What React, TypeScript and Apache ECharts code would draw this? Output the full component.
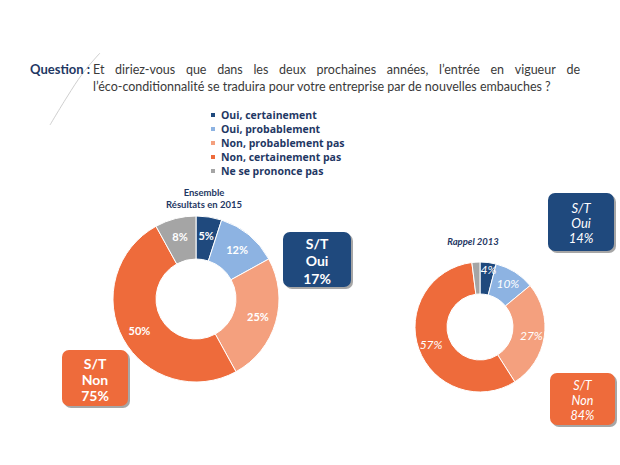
import React, { useEffect, useRef } from "react";
import * as echarts from "echarts";

const categories = [
  "Oui, certainement",
  "Oui, probablement",
  "Non, probablement pas",
  "Non, certainement pas",
  "Ne se prononce pas",
];
const values2015 = [5, 12, 25, 50, 8];
const values2013 = [4, 10, 27, 57, 2];
const colors = ["#1F497D", "#8DB3E2", "#F4A07E", "#EE6B3B", "#A5A5A5"];
const questionLine1 =
  "Et diriez-vous que dans les deux prochaines années, l\u2019entrée en vigueur de";
const questionLine2 =
  "l\u2019éco-conditionnalité se traduira pour votre entreprise par de nouvelles embauches ?";

const FONT = "Lato, 'Open Sans', sans-serif";
const WIDE = "'Open Sans', 'Noto Sans', sans-serif";

function measure(text: string, font: string): number {
  const c = document.createElement("canvas").getContext("2d");
  if (!c) return text.length * 5;
  c.font = font;
  return c.measureText(text).width;
}

function justifiedWords(line: string, x0: number, x1: number, y: number, size: number) {
  const words = line.split(" ");
  const font = `${size}px ${FONT}`;
  const widths = words.map((w) => measure(w, font));
  const total = widths.reduce((a, b) => a + b, 0);
  const gap = (x1 - x0 - total) / (words.length - 1);
  let x = x0;
  return words.map((w, i) => {
    const el = {
      type: "text",
      x,
      y,
      style: { text: w, fill: "#3A3A3A", font, textVerticalAlign: "middle" },
    };
    x += widths[i] + gap;
    return el;
  });
}

function box(x: number, y: number, w: number, h: number, fill: string, lines: string[], italic: boolean, size: number, lh: number) {
  return {
    type: "group",
    children: [
      {
        type: "rect",
        shape: { x: x + 2, y: y + 2, width: w, height: h, r: 7 },
        style: { fill: "rgba(0,0,0,0.35)" },
      },
      {
        type: "rect",
        shape: { x, y, width: w, height: h, r: 7 },
        style: { fill },
      },
      {
        type: "text",
        x: x + w / 2,
        y: y + h / 2 + 1,
        style: {
          text: lines.join("\n"),
          fill: "#FFFFFF",
          font: `${italic ? "italic " : ""}${italic ? "normal" : "bold"} ${size}px ${FONT}`,
          lineHeight: lh,
          align: "center",
          verticalAlign: "middle",
        },
      },
    ],
  };
}

export default function App() {
  const ref = useRef<HTMLDivElement>(null);
  useEffect(() => {
    if (!ref.current) return;
    const chart = echarts.init(ref.current, undefined, { renderer: "svg" });
    const oui15 = values2015[0] + values2015[1];
    const non15 = values2015[2] + values2015[3];
    const oui13 = values2013[0] + values2013[1];
    const non13 = values2013[2] + values2013[3];

    const mk = (vals: number[]) =>
      vals.map((v, i) => ({ name: categories[i], value: v, itemStyle: { color: colors[i] } }));

    const data13 = mk(values2013);
    (data13[4] as any).label = { offset: [-4, 5] };
    (data13[0] as any).label = { offset: [2, -6] };

    chart.setOption({
      animation: false,
      backgroundColor: "#FFFFFF",
      textStyle: { fontFamily: FONT },
      legend: {
        orient: "vertical",
        left: 204,
        top: 103,
        itemWidth: 6,
        itemHeight: 6,
        itemGap: 0,
        icon: "rect",
        selectedMode: false,
        data: categories,
        textStyle: {
          color: "#1F3864",
          fontSize: 10.5,
          fontWeight: "bold",
          fontFamily: WIDE,
          lineHeight: 14,
          padding: [0, 0, 0, 0],
        },
      },
      series: [
        {
          type: "pie",
          center: [196, 299],
          radius: [40, 83],
          startAngle: 90,
          clockwise: true,
          silent: true,
          itemStyle: { borderColor: "#FFFFFF", borderWidth: 1 },
          label: {
            show: true,
            position: "inside",
            formatter: "{c}%",
            color: "#FFFFFF",
            fontSize: 11,
            fontWeight: "bold",
            fontFamily: FONT,
          },
          labelLine: { show: false },
          data: mk(values2015),
        },
        {
          type: "pie",
          center: [480, 327],
          radius: [33, 65],
          startAngle: 90,
          clockwise: true,
          silent: true,
          itemStyle: { borderColor: "#FFFFFF", borderWidth: 1 },
          label: {
            show: true,
            position: "inside",
            formatter: "{c}%",
            color: "#FFFFFF",
            fontSize: 12,
            fontStyle: "italic",
            fontFamily: FONT,
          },
          labelLine: { show: false },
          data: data13,
        },
      ],
      graphic: [
        {
          type: "polyline",
          shape: { points: [[100, 53], [83, 73], [67, 97], [50, 125]], smooth: 0.4 },
          style: { stroke: "#CFCFCF", lineWidth: 1, fill: null },
        },
        {
          type: "text",
          x: 30,
          y: 69,
          style: {
            text: "Question :",
            fill: "#1F3864",
            font: `bold 13px ${FONT}`,
            verticalAlign: "middle",
          },
        },
        ...justifiedWords(questionLine1, 93, 580, 69, 12.5),
        {
          type: "text",
          x: 93,
          y: 86,
          style: { text: questionLine2, fill: "#3A3A3A", font: `12.5px ${FONT}`, verticalAlign: "middle" },
        },
        {
          type: "text",
          x: 204,
          y: 198,
          style: {
            text: "Ensemble\nRésultats en 2015",
            fill: "#1F3864",
            font: `bold 9.5px ${FONT}`,
            lineHeight: 12,
            align: "center",
            verticalAlign: "middle",
          },
        },
        {
          type: "text",
          x: 473,
          y: 241,
          style: {
            text: "Rappel 2013",
            fill: "#1F3864",
            font: `italic bold 9.5px ${FONT}`,
            align: "center",
            verticalAlign: "middle",
          },
        },
        box(283, 232, 68, 55, "#1F497D", ["S/T", "Oui", `${oui15}%`], false, 14, 17.5),
        box(62, 350, 66, 56, "#EE6B3B", ["S/T", "Non", `${non15}%`], false, 14, 16),
        box(548, 193, 66, 58, "#1F497D", ["S/T", "Oui", `${oui13}%`], true, 13, 15),
        box(550, 373, 65, 52, "#EE6B3B", ["S/T", "Non", `${non13}%`], true, 12.5, 15),
      ],
    });
    return () => chart.dispose();
  }, []);
  return (
    <div
      ref={ref}
      style={{ position: "absolute", left: 0, top: 0, width: 620, height: 465 }}
    />
  );
}
